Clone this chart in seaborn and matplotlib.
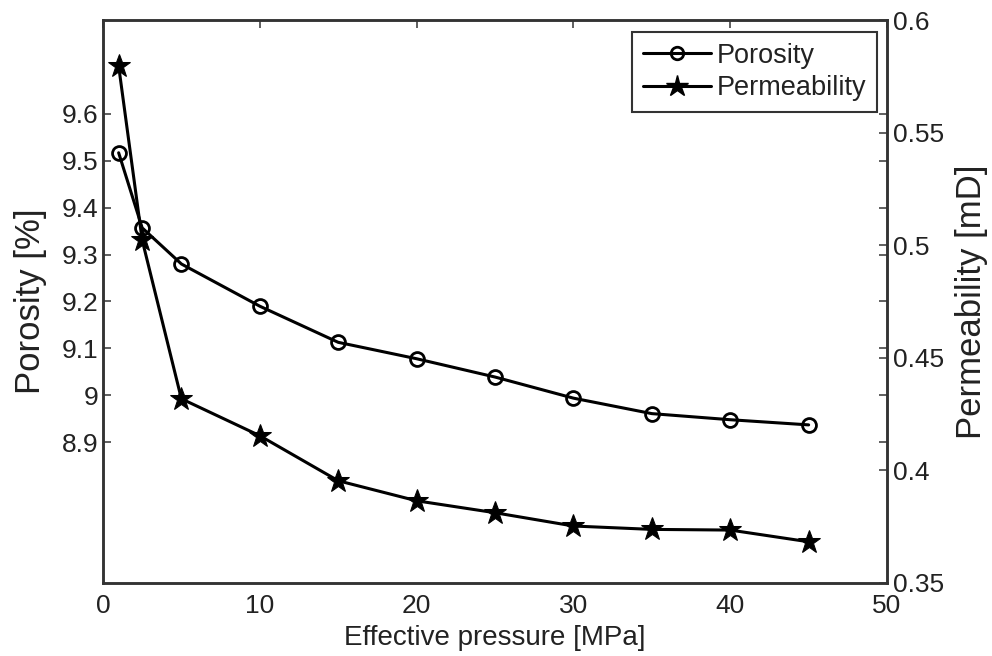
import matplotlib
matplotlib.use("Agg")
import matplotlib.pyplot as plt
import seaborn as sns
import pandas as pd
from matplotlib.ticker import FuncFormatter, FixedLocator
from matplotlib.lines import Line2D

pressure = [1, 2.5, 5, 10, 15, 20, 25, 30, 35, 40, 45]
porosity = [9.517, 9.357, 9.280, 9.190, 9.113, 9.078, 9.039, 8.994, 8.961, 8.948, 8.937]
permeability = [0.5796, 0.5023, 0.4318, 0.4154, 0.3954, 0.3865, 0.3812, 0.3753, 0.3738, 0.3735, 0.3683]

porosity_ticks = [8.9, 9.0, 9.1, 9.2, 9.3, 9.4, 9.5, 9.6]
permeability_ticks = [0.35, 0.40, 0.45, 0.50, 0.55, 0.60]
x_ticks = [0, 10, 20, 30, 40, 50]

df = pd.DataFrame({"pressure": pressure, "porosity": porosity, "permeability": permeability})

sns.set_style("white")
plt.rcParams["font.family"] = ["Liberation Sans", "DejaVu Sans"]

fig = plt.figure(figsize=(9.92, 6.56), dpi=100)
ax = fig.add_axes([0.1038, 0.1113, 0.7904, 0.8582])
ax2 = ax.twinx()

lw = 2.2
sns.lineplot(data=df, x="pressure", y="porosity", ax=ax, color="black", linewidth=lw,
             marker="o", markersize=10, markerfacecolor="none", markeredgecolor="black",
             markeredgewidth=2.0)
sns.lineplot(data=df, x="pressure", y="permeability", ax=ax2, color="black", linewidth=lw,
             marker="*", markersize=17, markerfacecolor="black", markeredgecolor="black")

ax.set_xlim(0, 50)
ax.set_ylim(8.6, 9.8)
ax2.set_ylim(0.35, 0.6)

fmt = FuncFormatter(lambda v, p: "%g" % round(v, 4))
ax.xaxis.set_major_locator(FixedLocator(x_ticks))
ax.yaxis.set_major_locator(FixedLocator(porosity_ticks))
ax2.yaxis.set_major_locator(FixedLocator(permeability_ticks))
ax.xaxis.set_major_formatter(fmt)
ax.yaxis.set_major_formatter(fmt)
ax2.yaxis.set_major_formatter(fmt)

tc = "#222222"
ax.tick_params(axis="both", direction="in", length=6, width=1.2, colors="#444444",
               labelcolor=tc, labelsize=19, top=True, right=True, labelright=False)
ax.tick_params(axis="x", pad=8)
ax2.tick_params(axis="y", direction="in", length=6, width=1.2, colors="#444444",
                labelcolor=tc, labelsize=19, pad=4)

for a in (ax, ax2):
    for s in a.spines.values():
        s.set_color("#333333")
        s.set_linewidth(1.8)
        s.set_visible(True)

ax.set_xlabel("Effective pressure [MPa]", fontsize=20, color=tc, labelpad=5)
ax.set_ylabel("Porosity [%]", fontsize=25, color=tc, labelpad=10)
ax2.set_ylabel("Permeability [mD]", fontsize=25, color=tc, labelpad=8)

handles = [
    Line2D([], [], color="black", linewidth=lw, marker="o", markersize=9,
           markerfacecolor="none", markeredgewidth=2.0),
    Line2D([], [], color="black", linewidth=lw, marker="*", markersize=16,
           markerfacecolor="black"),
]
leg = ax2.legend(handles, ["Porosity", "Permeability"], loc="upper right",
                 bbox_to_anchor=(0.987, 0.979), fontsize=19.5, frameon=True,
                 fancybox=False, framealpha=1, edgecolor="#333333",
                 handlelength=2.5, handletextpad=0.2, borderpad=0.4,
                 labelspacing=0.25, borderaxespad=0.0)
leg.get_frame().set_linewidth(1.5)
for t in leg.get_texts():
    t.set_color(tc)

fig.savefig("out.png", dpi=100)
